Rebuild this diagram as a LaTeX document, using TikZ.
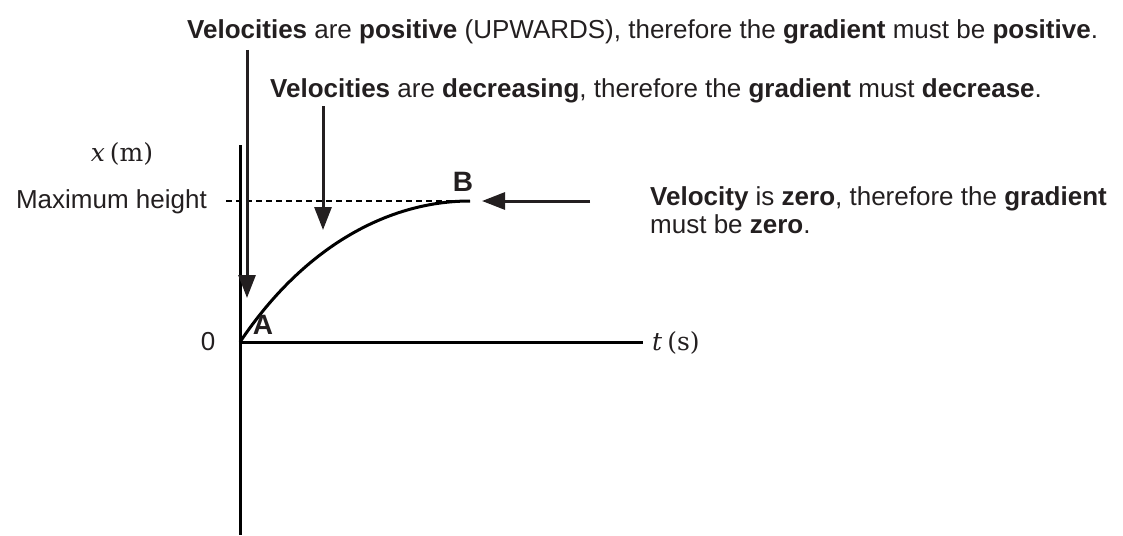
\documentclass[tikz,border=0pt]{standalone}
\usepackage[no-math]{fontspec}
\setmainfont{Liberation Sans}
\newfontfamily\axisfont{DejaVu Serif}
\usetikzlibrary{arrows.meta}
\definecolor{ink}{RGB}{35,31,32}
\begin{document}
\begin{tikzpicture}[x=1pt,y=-1pt,
  txt/.style={font=\fontsize{26}{30}\selectfont, text=ink, inner sep=0pt},
  mathlbl/.style={font=\axisfont\fontsize{25}{30}\selectfont, text=ink, inner sep=0pt},
  ptlbl/.style={font=\fontsize{28}{30}\selectfont\bfseries, text=ink, inner sep=0pt},
  axisline/.style={line width=3pt, draw=black},
  pointer/.style={line width=3pt, draw=ink, -{Triangle[length=23pt,width=17pt]}},
  guide/.style={line width=1.5pt, draw=black, dash pattern=on 6pt off 4pt},
  graphline/.style={line width=3pt, draw=black}]
\useasboundingbox (0,0) rectangle (1123,535);
% axes
\coordinate (O) at (240,342);
\coordinate (ytop) at (240,145);
\coordinate (ybot) at (240,535);
\coordinate (xend) at (643,342);
\coordinate (B) at (470,201);
\coordinate (d0) at (226,201);
\draw[guide] (d0) -- (B);
\draw[axisline] (ytop) -- (ybot);
\draw[axisline] (O) -- (xend);
\draw[graphline] (O) .. controls (305,245) and (390,201) .. (B);
% labels
\node[mathlbl, anchor=center] (xlab) at (122,154) {\textit{x}\kern0.2em(m)};
\node[mathlbl, anchor=west] (tlab) at (652,343) {\textit{t}\kern0.2em(s)};
\node[txt, anchor=center] (zero) at (208,342) {0};
\node[txt, anchor=east] (maxh) at (207,202) {Maximum height};
\node[ptlbl] (labA) at (263,325) {A};
\node[ptlbl] (labB) at (463,182) {B};
% texts
\node[txt, anchor=base west] (t1) at (187,38) {\textbf{Velocities} are \textbf{positive} (UPWARDS), therefore the \textbf{gradient} must be \textbf{positive}.};
\node[txt, anchor=base west] (t2) at (270,97) {\textbf{Velocities} are \textbf{decreasing}, therefore the \textbf{gradient} must \textbf{decrease}.};
\node[txt, anchor=base west] (t3) at (650,205) {\textbf{Velocity} is \textbf{zero}, therefore the \textbf{gradient}};
\node[txt, anchor=base west] (t4) at (650,233) {must be \textbf{zero}.};
% pointers
\coordinate (p1s) at (247,50);
\coordinate (p1e) at (247,298);
\coordinate (p2s) at (323,106);
\coordinate (p2e) at (323,230);
\coordinate (p3s) at (590,201);
\coordinate (p3e) at (482,201);
\draw[pointer] (p1s) -- (p1e);
\draw[pointer] (p2s) -- (p2e);
\draw[pointer] (p3s) -- (p3e);
\end{tikzpicture}
\end{document}
